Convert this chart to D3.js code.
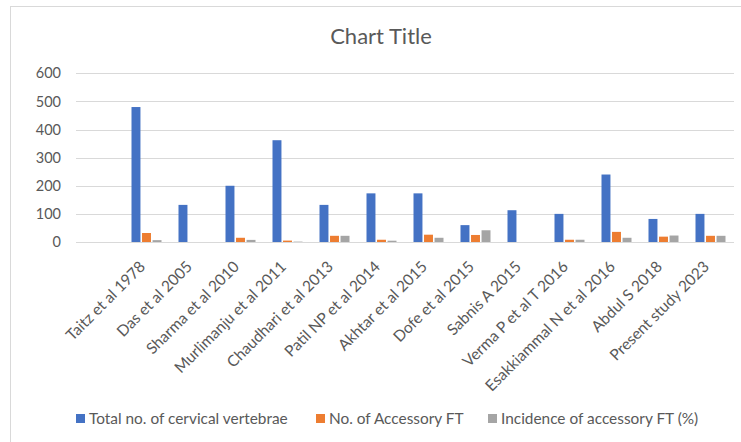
<!DOCTYPE html>
<html>
<head>
<meta charset="utf-8">
<script src="https://cdn.jsdelivr.net/npm/d3@7"></script>
<style>
  html, body { margin: 0; padding: 0; background: #fff; }
  svg { display: block; font-family: Lato, "Open Sans", sans-serif; }
</style>
</head>
<body>
<svg id="chart" width="741" height="442"></svg>
<script>
// Studies (first slot is an empty category, as in the source sheet)
const categories = ["", "Taitz et al 1978", "Das et al 2005", "Sharma et al 2010", "Murlimanju et al 2011",
  "Chaudhari et al 2013", "Patil NP et al 2014", "Akhtar et al 2015", "Dofe et al 2015", "Sabnis A 2015",
  "Verma P et al T 2016", "Esakkiammal N et al 2016", "Abdul S 2018", "Present study 2023"];

const totalVertebrae = [null, 480, 132, 200, 362, 132, 173, 173, 60, 113, 100, 240, 82, 100];
const accessoryFT    = [null, 32, 0, 15, 5, 22, 8, 26, 25, 0, 8, 36, 19, 22];
const incidencePct   = [null, 6.6, 0, 7.5, 1.4, 22, 4.6, 15, 41.7, 0, 8, 15, 23, 22];

const seriesNames = ["Total no. of cervical vertebrae", "No. of Accessory FT", "Incidence of accessory FT (%)"];
const seriesColors = ["#4472c4", "#ed7d31", "#a5a5a5"];
const yTicks = [0, 100, 200, 300, 400, 500, 600];

const svg = d3.select("#chart");
const textColor = "#595959";

// chart frame
svg.append("rect")
  .attr("x", 10.5).attr("y", 6.5)
  .attr("width", 800).attr("height", 500)
  .attr("fill", "none").attr("stroke", "#d9d9d9");

const plot = { left: 76, right: 734, top: 73.3, bottom: 242 };

const x = d3.scaleBand().domain(categories.map((c, i) => i))
  .range([plot.left, plot.right]).paddingInner(0).paddingOuter(0);
const y = d3.scaleLinear().domain([0, 600]).range([plot.bottom, plot.top]);

// gridlines
svg.append("g").selectAll("line").data(yTicks).join("line")
  .attr("x1", plot.left).attr("x2", plot.right)
  .attr("y1", d => Math.round(y(d)) + 0.5).attr("y2", d => Math.round(y(d)) + 0.5)
  .attr("stroke", "#d9d9d9").attr("stroke-width", 1);

// y axis labels
const yAxis = d3.axisLeft(y).tickValues(yTicks).tickSize(0).tickPadding(0);
const yg = svg.append("g").attr("transform", `translate(${plot.left - 15},0)`).call(yAxis);
yg.select(".domain").remove();
yg.selectAll("text").attr("fill", textColor).style("font-size", "14.5px")
  .style("font-family", "Lato, 'Open Sans', sans-serif");

// bars
const series = [totalVertebrae, accessoryFT, incidencePct];
const inner = d3.scaleBand().domain([0, 1, 2]).range([0, 30]).paddingInner(0.15);
const groupOffset = (x.bandwidth() - 30) / 2;

series.forEach((vals, s) => {
  svg.append("g").selectAll("rect")
    .data(vals.map((v, i) => ({ v, i })).filter(d => d.v !== null && d.v > 0))
    .join("rect")
    .attr("x", d => x(d.i) + groupOffset + inner(s))
    .attr("width", inner.bandwidth())
    .attr("y", d => y(d.v))
    .attr("height", d => y(0) - y(d.v))
    .attr("fill", seriesColors[s]);
});

// category labels
const xg = svg.append("g");
xg.selectAll("text").data(categories.map((c, i) => ({ c, i })).filter(d => d.c)).join("text")
  .attr("transform", d => `translate(${x(d.i) + x.bandwidth() / 2 - 8},${plot.bottom + 18}) rotate(-45)`)
  .attr("text-anchor", "end")
  .attr("dy", "0.7em")
  .attr("fill", textColor)
  .style("font-size", "15.5px")
  .text(d => d.c);

// title
svg.append("text")
  .attr("x", 381).attr("y", 44)
  .attr("text-anchor", "middle")
  .attr("fill", textColor)
  .style("font-size", "22px")
  .text("Chart Title");

// legend
const legendX = [76, 316, 488];
const lg = svg.append("g");
seriesNames.forEach((name, s) => {
  lg.append("rect").attr("x", legendX[s]).attr("y", 414).attr("width", 9).attr("height", 9)
    .attr("fill", seriesColors[s]);
  lg.append("text").attr("x", legendX[s] + 13).attr("y", 424)
    .attr("fill", textColor).style("font-size", "15.4px").text(name);
});
</script>
</body>
</html>
